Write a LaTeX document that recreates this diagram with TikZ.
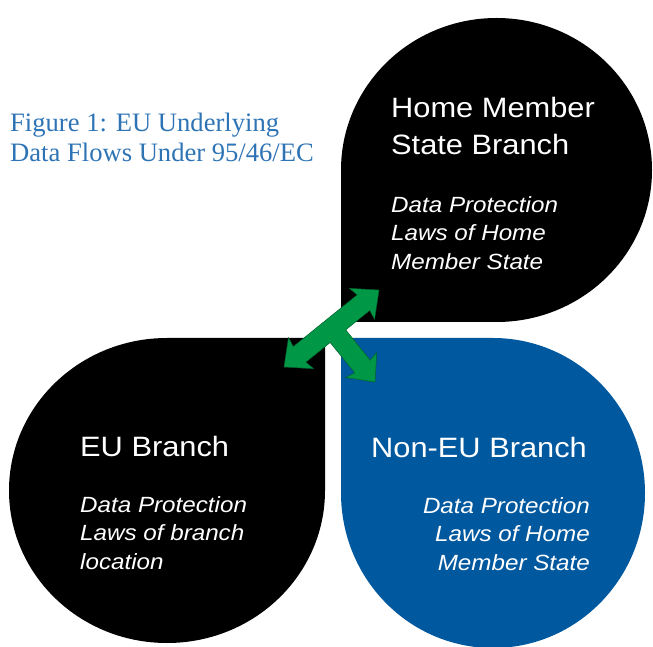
\documentclass[tikz,border=0pt]{standalone}
\usepackage{fontspec}
\setmainfont{Liberation Serif}
\newfontfamily\hv[FakeStretch=1.1]{Liberation Sans}
\definecolor{titleblue}{RGB}{46,116,181}
\definecolor{branchblue}{RGB}{0,88,158}
\definecolor{arrowgreen}{RGB}{0,152,70}
\definecolor{arrowedge}{RGB}{0,95,45}
\begin{document}
\begin{tikzpicture}[x=1pt,y=1pt,
  blackblob/.style={fill=black},
  blueblob/.style={fill=branchblue},
  headtxt/.style={font=\hv\fontsize{28}{37}\selectfont, text=white, inner sep=0pt, align=left, anchor=north west},
  lawtxt/.style={font=\hv\itshape\fontsize{22}{28.5}\selectfont, text=white, inner sep=0pt, align=left, anchor=north west},
  flowarrow/.style={fill=arrowgreen, draw=arrowedge, line width=0.5pt, line join=miter}
  ]
\useasboundingbox (0,0) rectangle (653,646);
\clip (0,0) rectangle (653,646);
% shapes
\path[blackblob] (341,324) -- (341,476) arc[start angle=180, end angle=-90, x radius=155.5, y radius=152] -- cycle;
\path[blackblob] (325,308) -- (325,155.5) arc[start angle=0, end angle=-270, x radius=158, y radius=152.5] -- cycle;
\path[blueblob] (341,308) -- (493,308) arc[start angle=90, end angle=-180, x radius=152, y radius=155] -- cycle;
% title
\node[font=\fontsize{26.6}{30}\selectfont, text=titleblue, inner sep=0pt, align=left, anchor=north west] (title) at (10,532.8) {Figure 1: EU Underlying\\Data Flows Under 95/46/EC};
% texts
\node[headtxt] (hmsHead) at (391,549) {Home Member\\State Branch};
\node[lawtxt] (hmsLaw) at (391,450) {Data Protection\\Laws of Home\\Member State};
\node[headtxt] (euHead) at (80,210) {EU Branch};
\node[lawtxt] (euLaw) at (80,150) {Data Protection\\Laws of branch\\location};
\node[headtxt] (nonHead) at (371,209) {Non-EU Branch};
\node[lawtxt, align=right, anchor=north east] (nonLaw) at (590,149) {Data Protection\\Laws of Home\\Member State};
% green arrow
\begin{scope}[shift={(284,279)}, rotate=39]
\path[flowarrow] (0,0) -- (22,20) -- (20,10) -- (102.3,10) -- (100.3,20) -- (122.3,0)
  -- (100.3,-20) -- (102.3,-10) -- (71.3,-10) -- (71.3,-49) -- (81.3,-47) -- (61.3,-69)
  -- (41.3,-47) -- (51.3,-49) -- (51.3,-10) -- (20,-10) -- (22,-20) -- cycle;
\end{scope}
\end{tikzpicture}
\end{document}
